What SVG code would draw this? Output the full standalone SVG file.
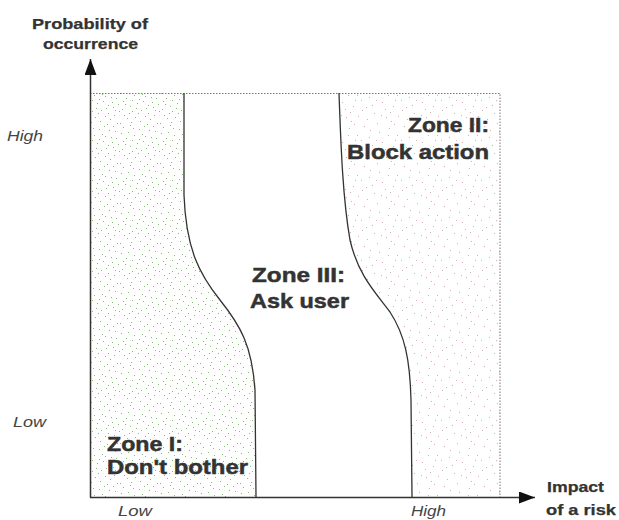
<svg xmlns="http://www.w3.org/2000/svg" width="619" height="520" viewBox="0 0 619 520">
<defs>
<style>
.ax{font-family:"Liberation Sans",Arial,sans-serif;font-weight:bold;font-size:15px;fill:#333;stroke:#333;stroke-width:0.25;}
.it{font-family:"Liberation Sans",Arial,sans-serif;font-style:italic;font-size:14px;fill:#444;}
.zone{font-family:"Liberation Sans",Arial,sans-serif;font-weight:bold;font-size:21px;fill:#333;stroke:#333;stroke-width:0.5;}
.curve{fill:none;stroke:#333;stroke-width:1.3;}
.axis{stroke:#333;stroke-width:1.5;fill:none;}
.dot{stroke:#777;stroke-width:1;stroke-dasharray:1.5 1.5;fill:none;}
</style>
<pattern id="green" width="40" height="40" patternUnits="userSpaceOnUse">
<g fill="#5aa44a" opacity="0.75">
<rect x="3" y="7" width="1" height="1"/><rect x="11" y="2" width="1" height="1"/><rect x="19" y="9" width="1" height="1"/><rect x="27" y="4" width="1" height="1"/><rect x="35" y="11" width="1" height="1"/><rect x="6" y="18" width="1" height="1"/><rect x="14" y="15" width="1" height="1"/><rect x="23" y="21" width="1" height="1"/><rect x="31" y="17" width="1" height="1"/><rect x="38" y="24" width="1" height="1"/><rect x="2" y="29" width="1" height="1"/><rect x="10" y="26" width="1" height="1"/><rect x="18" y="33" width="1" height="1"/><rect x="26" y="28" width="1" height="1"/><rect x="34" y="35" width="1" height="1"/><rect x="7" y="38" width="1" height="1"/><rect x="15" y="37" width="1" height="1"/><rect x="22" y="14" width="1" height="1"/><rect x="30" y="39" width="1" height="1"/><rect x="37" y="3" width="1" height="1"/><rect x="1" y="13" width="1" height="1"/><rect x="9" y="33" width="1" height="1"/><rect x="17" y="23" width="1" height="1"/><rect x="25" y="36" width="1" height="1"/><rect x="33" y="27" width="1" height="1"/><rect x="5" y="24" width="1" height="1"/><rect x="13" y="8" width="1" height="1"/><rect x="21" y="30" width="1" height="1"/><rect x="29" y="10" width="1" height="1"/><rect x="36" y="18" width="1" height="1"/><rect x="4" y="35" width="1" height="1"/><rect x="12" y="20" width="1" height="1"/><rect x="20" y="1" width="1" height="1"/><rect x="28" y="25" width="1" height="1"/><rect x="39" y="31" width="1" height="1"/><rect x="8" y="12" width="1" height="1"/><rect x="16" y="28" width="1" height="1"/><rect x="24" y="6" width="1" height="1"/><rect x="32" y="22" width="1" height="1"/><rect x="0" y="3" width="1" height="1"/>
<rect x="10" y="5" width="1" height="1"/><rect x="25" y="16" width="1" height="1"/><rect x="35" y="30" width="1" height="1"/><rect x="19" y="19" width="1" height="1"/><rect x="3" y="21" width="1" height="1"/><rect x="28" y="33" width="1" height="1"/><rect x="12" y="31" width="1" height="1"/><rect x="33" y="6" width="1" height="1"/>
</g>
</pattern>
<pattern id="pink" width="40" height="40" patternUnits="userSpaceOnUse">
<g fill="#c89090" opacity="0.75">
<rect x="4" y="6" width="1" height="1"/><rect x="17" y="3" width="1" height="1"/><rect x="29" y="8" width="1" height="1"/><rect x="37" y="15" width="1" height="1"/><rect x="9" y="17" width="1" height="1"/><rect x="22" y="22" width="1" height="1"/><rect x="33" y="26" width="1" height="1"/><rect x="2" y="30" width="1" height="1"/><rect x="14" y="33" width="1" height="1"/><rect x="26" y="37" width="1" height="1"/><rect x="38" y="36" width="1" height="1"/><rect x="7" y="39" width="1" height="1"/><rect x="19" y="12" width="1" height="1"/><rect x="31" y="1" width="1" height="1"/><rect x="12" y="25" width="1" height="1"/><rect x="25" y="29" width="1" height="1"/><rect x="1" y="20" width="1" height="1"/><rect x="35" y="20" width="1" height="1"/><rect x="21" y="35" width="1" height="1"/><rect x="10" y="10" width="1" height="1"/>
<rect x="28" y="15" width="1" height="1"/><rect x="6" y="27" width="1" height="1"/><rect x="16" y="20" width="1" height="1"/><rect x="34" y="4" width="1" height="1"/><rect x="30" y="32" width="1" height="1"/>
</g>
</pattern>
<marker id="arr" viewBox="0 0 16 12" refX="16" refY="6" markerWidth="16" markerHeight="12" markerUnits="userSpaceOnUse" orient="auto">
<path d="M0,0 L16,6 L0,12 Z" fill="#111"/>
</marker>
</defs>
<rect width="619" height="520" fill="#fff"/>

<g id="zone-i">
<path d="M90,93 L184,93 L184,195 C186,250 200,275 220,300 C240,325 252,345 255,390 L256,497 L90,497 Z" fill="url(#green)"/>
<text class="zone" x="107" y="451" textLength="76" lengthAdjust="spacingAndGlyphs">Zone I:</text>
<text class="zone" x="107" y="474" textLength="141" lengthAdjust="spacingAndGlyphs">Don't bother</text>
</g>

<g id="zone-ii">
<path d="M339,93 L500,93 L500,497 L412,497 L411,400 C410,360 405,335 390,312 C375,292 358,275 350,240 C343,200 341,150 339,93 Z" fill="url(#pink)"/>
<text class="zone" x="408" y="132" textLength="81" lengthAdjust="spacingAndGlyphs">Zone II:</text>
<text class="zone" x="347" y="159" textLength="142" lengthAdjust="spacingAndGlyphs">Block action</text>
</g>

<g id="zone-iii">
<text class="zone" x="252" y="282" textLength="93" lengthAdjust="spacingAndGlyphs">Zone III:</text>
<text class="zone" x="250" y="308" textLength="99" lengthAdjust="spacingAndGlyphs">Ask user</text>
</g>

<g id="connectors">
<path class="dot" d="M90,93.5 L500,93.5 L500,497"/>
<path class="curve" d="M184,93 L184,195 C186,250 200,275 220,300 C240,325 252,345 255,390 L256,497"/>
<path class="curve" d="M339,93 C341,150 343,200 350,240 C358,275 375,292 390,312 C405,335 410,360 411,400 L412,497"/>
<line class="axis" x1="90.5" y1="497.5" x2="90.5" y2="59" marker-end="url(#arr)"/>
<line class="axis" x1="90" y1="497.5" x2="535" y2="497.5" marker-end="url(#arr)"/>
</g>

<g id="y-axis-labels">
<text class="ax" x="32" y="29" textLength="116" lengthAdjust="spacingAndGlyphs">Probability of</text>
<text class="ax" x="43" y="49" textLength="95" lengthAdjust="spacingAndGlyphs">occurrence</text>
<text class="it" x="7" y="141" textLength="36" lengthAdjust="spacingAndGlyphs">High</text>
<text class="it" x="13" y="427" textLength="33" lengthAdjust="spacingAndGlyphs">Low</text>
</g>

<g id="x-axis-labels">
<text class="it" x="118" y="516" textLength="34" lengthAdjust="spacingAndGlyphs">Low</text>
<text class="it" x="411" y="516" textLength="35" lengthAdjust="spacingAndGlyphs">High</text>
<text class="ax" x="547" y="492" textLength="57" lengthAdjust="spacingAndGlyphs">Impact</text>
<text class="ax" x="546" y="515" textLength="70" lengthAdjust="spacingAndGlyphs">of a risk</text>
</g>
</svg>
